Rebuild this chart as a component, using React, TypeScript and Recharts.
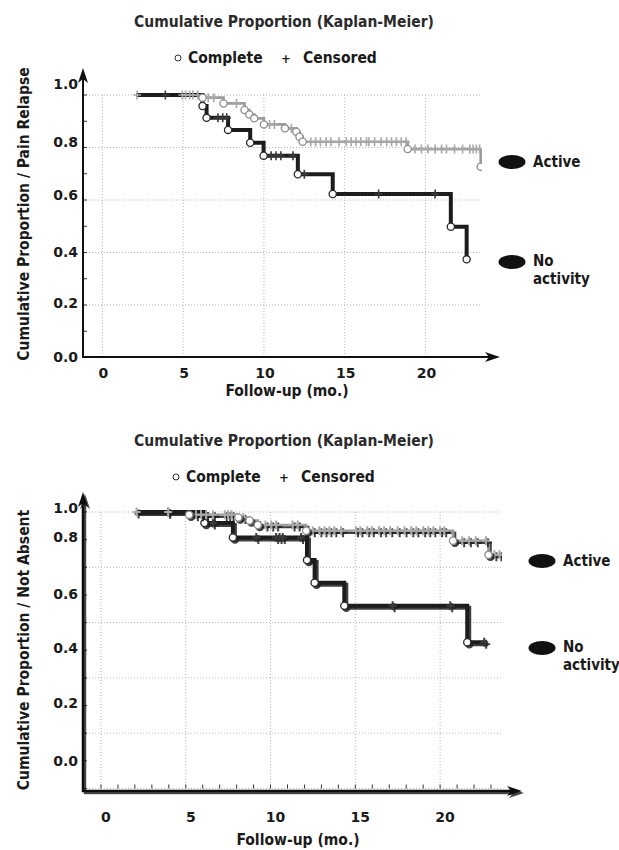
import React from "react";
import { ComposedChart, Line, Scatter, XAxis, YAxis, CartesianGrid } from "recharts";

const LABEL_FONT = '"DejaVu Sans Condensed", "Liberation Sans Narrow", "DejaVu Sans", sans-serif';
const TICK_FONT = '"DejaVu Sans", "Liberation Sans", sans-serif';

// axes
const xTicks = [0, 5, 10, 15, 20];
const xMinorTicks = [0, 1, 2, 3, 4, 5, 6, 7, 8, 9, 10, 11, 12, 13, 14, 15, 16, 17, 18, 19, 20, 21, 22, 23];
const yTicks = [0, 0.1, 0.2, 0.3, 0.4, 0.5, 0.6, 0.7, 0.8, 0.9, 1.0];
const yGrid = [0, 0.2, 0.4, 0.6, 0.8, 1.0];

// Pain relapse — Active (grey)
const painActiveStart = 2.1;
const painActiveEventT = [6.2, 7.5, 8.8, 9.1, 9.4, 10.0, 11.3, 12.0, 12.2, 12.4, 18.9, 23.42];
const painActiveEventS = [0.99, 0.968, 0.943, 0.926, 0.911, 0.888, 0.873, 0.86, 0.841, 0.822, 0.794, 0.727];
const painActiveCensored = [2.15, 4.95, 5.15, 5.4, 5.6, 5.9, 6.55, 6.9, 8.3, 10.35, 10.65, 11.7, 12.9, 13.2, 13.5, 13.85, 14.15, 14.65, 15.1, 15.4, 15.7, 16.0, 16.35, 16.5, 16.85, 17.25, 17.6, 17.9, 18.2, 18.5, 18.8, 19.35, 19.75, 20.15, 20.6, 21.0, 21.3, 21.8, 22.3, 22.75, 22.95, 23.15, 23.35];

// Pain relapse — No activity (black)
const painNoneStart = 2.1;
const painNoneEventT = [6.2, 6.45, 7.78, 9.15, 9.98, 12.1, 14.26, 21.57, 22.55];
const painNoneEventS = [0.958, 0.913, 0.867, 0.818, 0.769, 0.698, 0.623, 0.498, 0.374];
const painNoneCensored = [3.9, 7.15, 7.45, 7.7, 10.45, 10.75, 11.05, 11.8, 12.5, 17.1, 20.6];

// Not absent — Active (grey)
const absentActiveStart = 2.1;
const absentActiveEnd = 23.6;
const absentActiveEventT = [5.2, 8.1, 8.76, 9.25, 12.1, 20.76, 22.85];
const absentActiveEventS = [0.99, 0.98, 0.969, 0.953, 0.932, 0.896, 0.845];
const absentActiveCensored = [2.1, 3.96, 5.6, 5.9, 6.2, 6.6, 7.3, 7.5, 7.7, 8.4, 9.7, 10.04, 10.33, 11.3, 11.6, 12.49, 12.88, 13.18, 13.47, 13.76, 14.16, 15.04, 15.3, 15.7, 15.97, 16.4, 16.7, 17.06, 17.5, 17.9, 18.3, 18.6, 19.0, 19.3, 19.6, 20.0, 20.24, 21.3, 21.7, 22.1, 22.7, 23.2, 23.5];

// Not absent — No activity (black)
const absentNoneStart = 2.1;
const absentNoneEnd = 22.7;
const absentNoneEventT = [6.1, 7.78, 12.15, 12.6, 14.35, 21.6];
const absentNoneEventS = [0.96, 0.908, 0.826, 0.744, 0.661, 0.529];
const absentNoneCensored = [3.96, 6.6, 9.16, 10.33, 10.53, 10.72, 11.8, 17.2, 20.6, 22.6];

type Pt = { t: number; s: number };

function kmCurve(start: number, eventT: number[], eventS: number[], end?: number): Pt[] {
  const pts: Pt[] = [{ t: start, s: 1 }];
  eventT.forEach((t, i) => pts.push({ t, s: eventS[i] }));
  if (end !== undefined) pts.push({ t: end, s: eventS[eventS.length - 1] });
  return pts;
}

function events(eventT: number[], eventS: number[]): Pt[] {
  return eventT.map((t, i) => ({ t, s: eventS[i] }));
}

function censored(times: number[], eventT: number[], eventS: number[]): Pt[] {
  return times.map((t) => {
    let s = 1;
    eventT.forEach((et, i) => {
      if (et < t) s = eventS[i];
    });
    return { t, s };
  });
}

const circleShape = (stroke: string, shadow: boolean) => (p: any) => (
  <circle
    cx={p.cx}
    cy={p.cy}
    r={3.6}
    fill="#fff"
    stroke={stroke}
    strokeWidth={1.3}
    filter={shadow ? "url(#shadowB)" : undefined}
  />
);

const crossShape = (stroke: string, shadow: boolean) => (p: any) => (
  <path
    d={`M${p.cx - 4},${p.cy}H${p.cx + 4}M${p.cx},${p.cy - 4.5}V${p.cy + 4.5}`}
    stroke={stroke}
    strokeWidth={shadow ? 2 : 1.6}
    fill="none"
    filter={shadow ? "url(#shadowB)" : undefined}
  />
);

type ChartCfg = {
  top: number;
  height: number;
  margin: { top: number; right: number; bottom: number; left: number };
  xDomain: [number, number];
  minorTicks: boolean;
  xLabelDx: number;
  xLabelDy: number;
  yLabelShift: number[];
  shadow: boolean;
  grey: Pt[];
  greyDone: Pt[];
  greyCens: Pt[];
  black: Pt[];
  blackDone: Pt[];
  blackCens: Pt[];
};

function KMChart(c: ChartCfg) {
  const sh = c.shadow ? "url(#shadowB)" : undefined;
  const XTick = (p: any) => {
    const v = p.payload.value;
    const major = v % 5 === 0;
    return (
      <g>
        {c.minorTicks && (
          <line x1={p.x} x2={p.x} y1={p.y} y2={p.y - 4} stroke="#333" strokeWidth={1} />
        )}
        {major && (
          <text
            x={p.x + c.xLabelDx}
            y={p.y + c.xLabelDy}
            textAnchor="middle"
            dominantBaseline="central"
            fontFamily={TICK_FONT}
            fontWeight="bold"
            fontSize={14}
            fill="#1a1a1a"
          >
            {v}
          </text>
        )}
      </g>
    );
  };
  const YTick = (p: any) => {
    const v = p.payload.value;
    const idx = Math.round(v * 10);
    return (
      <g>
        <line x1={p.x} x2={p.x + 4} y1={p.y} y2={p.y} stroke="#333" strokeWidth={1} />
        {idx % 2 === 0 && (
          <text
            x={p.x - 5}
            y={p.y + c.yLabelShift[idx / 2]}
            textAnchor="end"
            dominantBaseline="central"
            fontFamily={TICK_FONT}
            fontWeight="bold"
            fontSize={14}
            fill="#1a1a1a"
          >
            {v.toFixed(1)}
          </text>
        )}
      </g>
    );
  };
  return (
    <div style={{ position: "absolute", left: 0, top: c.top }}>
      <ComposedChart width={619} height={c.height} margin={c.margin}>
        <defs>
          <filter id="shadowB" x="-50%" y="-50%" width="200%" height="200%">
            <feDropShadow dx="2" dy="2" stdDeviation="0.7" floodColor="#1a1a1a" floodOpacity="0.85" />
          </filter>
        </defs>
        <CartesianGrid
          horizontalValues={yGrid}
          verticalValues={xTicks}
          stroke="#b5b5b5"
          strokeDasharray="1 2"
        />
        <XAxis
          type="number"
          dataKey="t"
          domain={c.xDomain}
          allowDataOverflow
          ticks={c.minorTicks ? xMinorTicks : xTicks}
          interval={0}
          axisLine={false}
          tickLine={false}
          tickSize={0}
          tickMargin={0}
          height={30}
          tick={XTick}
        />
        <YAxis
          type="number"
          dataKey="s"
          domain={[0, 1]}
          ticks={yTicks}
          interval={0}
          axisLine={false}
          tickLine={false}
          tickSize={0}
          tickMargin={0}
          width={50}
          tick={YTick}
        />
        <Line
          data={c.grey}
          dataKey="s"
          type="stepAfter"
          stroke="#9c9c9c"
          strokeWidth={2.6}
          dot={false}
          activeDot={false}
          filter={sh}
          isAnimationActive={false}
        />
        <Line
          data={c.black}
          dataKey="s"
          type="stepAfter"
          stroke="#1c1c1c"
          strokeWidth={4}
          dot={false}
          activeDot={false}
          filter={sh}
          isAnimationActive={false}
        />
        <Scatter data={c.blackCens} shape={crossShape("#3a3a3a", c.shadow)} isAnimationActive={false} />
        <Scatter data={c.blackDone} shape={circleShape("#2a2a2a", c.shadow)} isAnimationActive={false} />
        <Scatter data={c.greyCens} shape={crossShape("#a8a8a8", c.shadow)} isAnimationActive={false} />
        <Scatter data={c.greyDone} shape={circleShape("#8f8f8f", c.shadow)} isAnimationActive={false} />
      </ComposedChart>
    </div>
  );
}

function Arrow({ x, y, dir, shadow }: { x: number; y: number; dir: "up" | "right"; shadow?: boolean }) {
  const d =
    dir === "up"
      ? `M${x},${y} L${x - 5},${y + 15} L${x},${y + 11} L${x + 5},${y + 15} Z`
      : `M${x},${y} L${x - 15},${y - 5} L${x - 11},${y} L${x - 15},${y + 5} Z`;
  return <path d={d} fill="#111" filter={shadow ? "url(#shadowO)" : undefined} />;
}

function Legend({ y, x0 }: { y: number; x0: number }) {
  const t = { fontFamily: LABEL_FONT, fontWeight: "bold" as const, fontSize: 15.5, fill: "#1a1a1a" };
  return (
    <g>
      <circle cx={x0} cy={y} r={3} fill="#fff" stroke="#333" strokeWidth={1} />
      <text x={x0 + 10} y={y} dominantBaseline="central" {...t}>Complete</text>
      <text x={x0 + 108} y={y} dominantBaseline="central" textAnchor="middle" {...t} fontSize={13}>+</text>
      <text x={x0 + 125} y={y} dominantBaseline="central" {...t}>Censored</text>
    </g>
  );
}

function SideLegend({ cx, yActive, yNone }: { cx: number; yActive: number; yNone: number }) {
  const t = { fontFamily: LABEL_FONT, fontWeight: "bold" as const, fontSize: 15, fill: "#1a1a1a" };
  return (
    <g>
      <ellipse cx={cx} cy={yActive} rx={13.5} ry={7} fill="#111" />
      <text x={cx + 21} y={yActive} dominantBaseline="central" {...t}>Active</text>
      <ellipse cx={cx} cy={yNone} rx={13.5} ry={7} fill="#111" />
      <text x={cx + 21} y={yNone - 1} dominantBaseline="central" {...t}>No</text>
      <text x={cx + 21} y={yNone + 17} dominantBaseline="central" {...t}>activity</text>
    </g>
  );
}

export default function App() {
  const title = { fontFamily: LABEL_FONT, fontWeight: "bold" as const, fontSize: 15.5, fill: "#2a2a2a" };
  const axisT = { fontFamily: LABEL_FONT, fontWeight: "bold" as const, fontSize: 15.5, fill: "#1a1a1a" };
  return (
    <div style={{ position: "absolute", left: 0, top: 0, width: 619, height: 850, background: "#fff" }}>
      <KMChart
        top={0}
        height={420}
        margin={{ top: 95, right: 137, bottom: 32.5, left: 33 }}
        xDomain={[-1.2, 23.5]}
        minorTicks={false}
        xLabelDx={1}
        xLabelDy={15}
        yLabelShift={[-1, -2, -1, -5, -6, -11]}
        shadow={false}
        grey={kmCurve(painActiveStart, painActiveEventT, painActiveEventS)}
        greyDone={events(painActiveEventT, painActiveEventS)}
        greyCens={censored(painActiveCensored, painActiveEventT, painActiveEventS)}
        black={kmCurve(painNoneStart, painNoneEventT, painNoneEventS)}
        blackDone={events(painNoneEventT, painNoneEventS)}
        blackCens={censored(painNoneCensored, painNoneEventT, painNoneEventS)}
      />
      <KMChart
        top={430}
        height={420}
        margin={{ top: 82, right: 117, bottom: 31.5, left: 33 }}
        xDomain={[-1.06, 23.65]}
        minorTicks={true}
        xLabelDx={5}
        xLabelDy={28}
        yLabelShift={[-28, -30, -30, -29, -30, -4]}
        shadow={true}
        grey={kmCurve(absentActiveStart, absentActiveEventT, absentActiveEventS, absentActiveEnd)}
        greyDone={events(absentActiveEventT, absentActiveEventS)}
        greyCens={censored(absentActiveCensored, absentActiveEventT, absentActiveEventS)}
        black={kmCurve(absentNoneStart, absentNoneEventT, absentNoneEventS, absentNoneEnd)}
        blackDone={events(absentNoneEventT, absentNoneEventS)}
        blackCens={censored(absentNoneCensored, absentNoneEventT, absentNoneEventS)}
      />
      <svg width={619} height={850} style={{ position: "absolute", left: 0, top: 0, pointerEvents: "none" }}>
        <defs>
          <filter id="shadowO" x="-50%" y="-50%" width="200%" height="200%">
            <feDropShadow dx="2" dy="2" stdDeviation="0.7" floodColor="#1a1a1a" floodOpacity="0.8" />
          </filter>
        </defs>

        {/* top chart */}
        <text x={284} y={22} textAnchor="middle" dominantBaseline="central" {...title}>
          Cumulative Proportion (Kaplan-Meier)
        </text>
        <Legend y={58} x0={178} />
        <line x1={83} y1={358} x2={83} y2={75} stroke="#111" strokeWidth={2} />
        <Arrow x={83} y={68} dir="up" />
        <line x1={82} y1={357} x2={490} y2={357} stroke="#111" strokeWidth={2} />
        <Arrow x={500} y={357} dir="right" />
        <text
          transform="translate(24,214) rotate(-90)"
          textAnchor="middle"
          dominantBaseline="central"
          {...axisT}
        >
          Cumulative Proportion / Pain Relapse
        </text>
        <text x={287} y={391} textAnchor="middle" dominantBaseline="central" {...axisT}>
          Follow-up (mo.)
        </text>
        <SideLegend cx={512} yActive={162} yNone={262} />

        {/* bottom chart */}
        <text x={284} y={441} textAnchor="middle" dominantBaseline="central" {...title}>
          Cumulative Proportion (Kaplan-Meier)
        </text>
        <Legend y={477} x0={176} />
        <g filter="url(#shadowO)">
          <line x1={83} y1={792} x2={83} y2={500} stroke="#111" strokeWidth={2.5} />
          <line x1={82} y1={791} x2={512} y2={791} stroke="#111" strokeWidth={2.5} />
        </g>
        <Arrow x={83} y={492} dir="up" shadow />
        <Arrow x={522} y={791} dir="right" shadow />
        <text
          transform="translate(24,650) rotate(-90)"
          textAnchor="middle"
          dominantBaseline="central"
          {...axisT}
        >
          Cumulative Proportion / Not Absent
        </text>
        <text x={298} y={840} textAnchor="middle" dominantBaseline="central" {...axisT}>
          Follow-up (mo.)
        </text>
        <SideLegend cx={542} yActive={561} yNone={648} />
      </svg>
    </div>
  );
}
